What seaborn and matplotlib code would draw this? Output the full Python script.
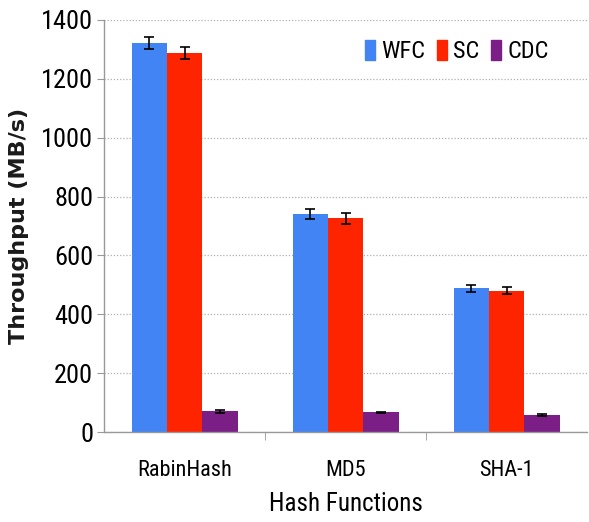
import matplotlib
matplotlib.use("Agg")
import matplotlib.pyplot as plt
from matplotlib import font_manager
import seaborn as sns
import pandas as pd
import numpy as np

# Throughput of chunking schemes per hash function
hash_functions = ["RabinHash", "MD5", "SHA-1"]
schemes = ["WFC", "SC", "CDC"]
wfc = [1321, 741, 488]
sc = [1287, 726, 481]
cdc = [71, 67, 59]
wfc_err = [20, 18, 13]
sc_err = [20, 19, 13]
cdc_err = [5, 3, 3]

colors = ["#4384F5", "#FF2400", "#7B1F86"]

df = pd.DataFrame({
    "Hash": hash_functions * 3,
    "Scheme": [s for s in schemes for _ in hash_functions],
    "Throughput": wfc + sc + cdc,
})
errs = {"WFC": wfc_err, "SC": sc_err, "CDC": cdc_err}

installed = {f.name for f in font_manager.fontManager.ttflist}
narrow = next((f for f in ["Liberation Sans Narrow", "Roboto Condensed",
                           "Open Sans Condensed", "Lato"] if f in installed),
              "DejaVu Sans")

sns.set_style("white")
plt.rcParams["font.family"] = [narrow, "DejaVu Sans"]
plt.rcParams["text.color"] = "black"
plt.rcParams["xtick.color"] = "black"
plt.rcParams["ytick.color"] = "black"

fig = plt.figure(figsize=(5.89, 5.22), dpi=100)
ax = fig.add_axes([0.177, 0.172, 0.820, 0.790])

sns.barplot(data=df, x="Hash", y="Throughput", hue="Scheme",
            hue_order=schemes, order=hash_functions, palette=colors,
            width=0.66, saturation=1, errorbar=None, linewidth=0,
            ax=ax, zorder=2)

for container, scheme in zip(ax.containers, schemes):
    xs = [b.get_x() + b.get_width() / 2 for b in container]
    ys = [b.get_height() for b in container]
    ax.errorbar(xs, ys, yerr=errs[scheme], fmt="none", ecolor="black",
                elinewidth=1.2, capsize=3.5, capthick=1.2, zorder=3)

ax.set_ylim(0, 1400)
ax.set_xlim(-0.5, 2.5)
ax.set_yticks(np.arange(0, 1401, 200))
ax.yaxis.grid(True, linestyle=(0, (1, 1.5)), color="#b0b0b0", linewidth=0.9)
ax.set_axisbelow(True)

for s in ["top", "right"]:
    ax.spines[s].set_visible(False)
for s in ["left", "bottom"]:
    ax.spines[s].set_color("#999999")
    ax.spines[s].set_linewidth(1.0)

ax.tick_params(axis="y", which="major", length=5, color="#999999",
               labelsize=19, pad=3, direction="out", left=True,
               labelcolor="black")
ax.tick_params(axis="x", which="major", length=0, labelsize=16, pad=20,
               labelcolor="black")
ax.set_xticks([0.5, 1.5], minor=True)
ax.tick_params(axis="x", which="minor", length=6, color="#999999",
               direction="out", bottom=True)

ax.set_xlabel("Hash Functions", fontsize=18, labelpad=8, color="black")
ax.set_ylabel("Throughput (MB/s)", fontsize=16, fontweight="bold",
              family="DejaVu Sans", labelpad=9, color="#1a1a1a")

handles = [plt.Rectangle((0, 0), 1, 1, color=c) for c in colors]
ax.legend(handles, schemes, loc="upper right", bbox_to_anchor=(0.94, 0.975),
          ncol=3, frameon=False, fontsize=17.5, handlelength=0.4,
          handleheight=0.9, handletextpad=0.25, columnspacing=0.5,
          borderaxespad=0)

fig.savefig("out.png", dpi=100)
